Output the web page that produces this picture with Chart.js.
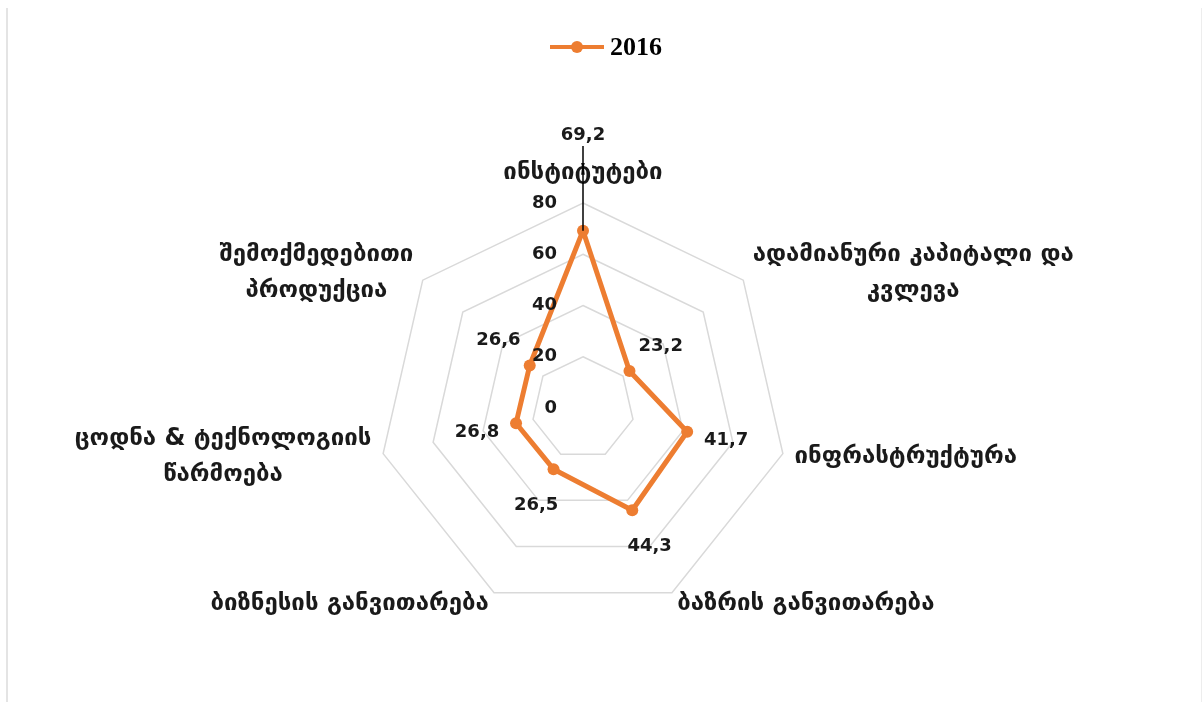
<!DOCTYPE html>
<html lang="ka">
<head>
<meta charset="UTF-8">
<title>2016 radar</title>
<script src="https://cdn.jsdelivr.net/npm/chart.js"></script>
<style>
  html, body { margin: 0; padding: 0; background: #fff; }
  .frame {
    position: absolute; left: 6px; top: 8px; width: 1193px; height: 694px;
    border-left: 2px solid #e4e4e4; border-right: 1px solid #ededed;
  }
  .wrap { position: absolute; left: 0; top: 0; width: 1202px; height: 702px; }
</style>
</head>
<body>
<div class="frame"></div>
<div class="wrap"><canvas id="radar"></canvas></div>

<script>
    // data
    var categories = [
        ['ინსტიტუტები'],
        ['ადამიანური კაპიტალი და', 'კვლევა'],
        ['ინფრასტრუქტურა'],
        ['ბაზრის განვითარება'],
        ['ბიზნესის განვითარება'],
        ['ცოდნა & ტექნოლოგიის', 'წარმოება'],
        ['შემოქმედებითი', 'პროდუქცია']
    ];
    var seriesName = '2016';
    var values2016 = [69.2, 23.2, 41.7, 44.3, 26.5, 26.8, 26.6];
    var tickValues = [0, 20, 40, 60, 80];

    // styles
    var orange = '#ED7D31';
    var textColor = '#1a1a1a';
    var labelFont = 'bold 24px "DejaVu Sans"';
    var numberFont = 'bold 18px "DejaVu Sans"';
    var legendFont = 'bold 26px "Liberation Serif"';
    var leaderLabelIndex = 0;   // this data label sits up top with a leader line

    function fmt(v) {
        return v.toFixed(1).replace('.', ',');
    }

    var decorPlugin = {
        id: 'decor',
        afterDraw: function (chart) {
            var ctx = chart.ctx;
            var r = chart.scales.r;
            var cx = r.xCenter, cy = r.yCenter, R = r.drawingArea;
            ctx.save();
            ctx.fillStyle = textColor;

            // axis numbers, left of the vertical axis
            ctx.font = numberFont;
            ctx.textAlign = 'right';
            ctx.textBaseline = 'middle';
            r.ticks.forEach(function (t) {
                ctx.fillText(String(t.value), cx - 26, cy - r.getDistanceFromCenterForValue(t.value));
            });

            // category labels
            ctx.font = labelFont;
            ctx.textAlign = 'center';
            var lh = 36;
            categories.forEach(function (lines, i) {
                var p = r.getPointPosition(i, R + 12);
                var w = Math.max.apply(null, lines.map(function (l) { return ctx.measureText(l).width; }));
                var dx = p.x - cx;
                var h = lines.length * lh;
                var left, top;
                if (Math.abs(dx) < 2) {
                    left = p.x - w / 2;
                    top = p.y - h;
                } else {
                    left = dx > 0 ? p.x : p.x - w;
                    top = p.y - h / 2;
                }
                lines.forEach(function (line, k) {
                    ctx.fillText(line, left + w / 2, top + lh * (k + 0.5));
                });
            });

            // data labels
            ctx.font = numberFont;
            var meta = chart.getDatasetMeta(0);
            values2016.forEach(function (v, i) {
                var d = r.getDistanceFromCenterForValue(v);
                if (i === leaderLabelIndex) {
                    var lp = r.getPointPosition(i, R + 68);
                    ctx.fillText(fmt(v), lp.x, lp.y);
                    var pt = meta.data[i];
                    ctx.strokeStyle = '#000';
                    ctx.lineWidth = 1.5;
                    ctx.beginPath();
                    ctx.moveTo(lp.x, lp.y + 11);
                    ctx.lineTo(pt.x, pt.y);
                    ctx.stroke();
                } else {
                    var p = r.getPointPosition(i, d + 40);
                    ctx.fillText(fmt(v), p.x, p.y);
                }
            });

            // legend: line with marker, then series name
            ctx.font = legendFont;
            var tw = ctx.measureText(seriesName).width;
            var total = 54 + 6 + tw;
            var x0 = chart.width / 2 - total / 2 + 5;
            var ly = 47;
            ctx.strokeStyle = orange;
            ctx.lineWidth = 4;
            ctx.beginPath();
            ctx.moveTo(x0, ly);
            ctx.lineTo(x0 + 54, ly);
            ctx.stroke();
            ctx.fillStyle = orange;
            ctx.beginPath();
            ctx.arc(x0 + 27, ly, 6, 0, Math.PI * 2);
            ctx.fill();
            ctx.fillStyle = '#000';
            ctx.textAlign = 'left';
            ctx.fillText(seriesName, x0 + 60, ly + 1);

            ctx.restore();
        }
    };

    var ctx = document.getElementById('radar').getContext('2d');
    var radarChart = new Chart(ctx, {
        type: 'radar',
        data: {
            labels: categories,
            datasets: [{
                label: seriesName,
                data: values2016,
                borderColor: orange,
                backgroundColor: orange,
                borderWidth: 5,
                borderJoinStyle: 'round',
                pointRadius: 6,
                pointBorderWidth: 0,
                pointBackgroundColor: orange,
                fill: false
            }]
        },
        options: {
            responsive: true,
            maintainAspectRatio: false,
            animation: false,
            layout: {
                padding: { top: 203, bottom: 89, left: 283, right: 319 }
            },
            plugins: {
                legend: { display: false },
                tooltip: { enabled: false }
            },
            scales: {
                r: {
                    min: tickValues[0],
                    max: tickValues[tickValues.length - 1],
                    ticks: { stepSize: 20, display: false },
                    grid: { color: '#d9d9d9', lineWidth: 1.5, circular: false },
                    angleLines: { display: false },
                    pointLabels: { display: false }
                }
            }
        },
        plugins: [decorPlugin]
    });
</script>
</body>
</html>
